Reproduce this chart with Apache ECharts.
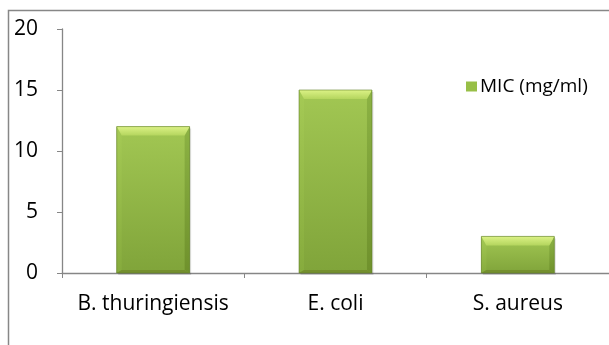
<!DOCTYPE html>
<html>
<head>
<meta charset="utf-8">
<script src="https://cdn.jsdelivr.net/npm/echarts@6/dist/echarts.min.js"></script>
<style>
  html, body { margin: 0; padding: 0; background: #fff; }
  #chart { width: 609px; height: 345px; }
</style>
</head>
<body>
<div id="chart"></div>
<script>
// Minimum inhibitory concentration per organism
const organisms = ['B. thuringiensis', 'E. coli', 'S. aureus'];
const micValues = [12, 15, 3];
const yTicks = [0, 5, 10, 15, 20];
const seriesName = 'MIC (mg/ml)';

const FONT = '"Open Sans", Lato, sans-serif';

// Bevelled bar: shaded face with a bright top edge and darker sides
function renderBevelBar(params, api) {
  const idx = api.value(0);
  const val = api.value(1);
  const base = api.coord([idx, 0]);
  const top = api.coord([idx, val]);
  const bw = api.size([1, 0])[0] * 0.4;
  const l = base[0] - bw / 2, r = l + bw;
  const t = top[1], b = base[1];
  const s = 5, ht = 9, hb = 3;
  return {
    type: 'group',
    children: [
      { type: 'rect', shape: { x: l + 1.5, y: t + 2, width: bw, height: b - t },
        style: { fill: 'rgba(0,0,0,0.12)' } },
      { type: 'rect', shape: { x: l, y: t, width: bw, height: b - t },
        style: { fill: new echarts.graphic.LinearGradient(0, 0, 0, 1, [
          { offset: 0, color: '#a2c753' }, { offset: 1, color: '#80a43a' }]) } },
      { type: 'polygon', shape: { points: [[l, t], [l + s, t + ht], [l + s, b - hb], [l, b]] },
        style: { fill: new echarts.graphic.LinearGradient(0, 0, 0, 1, [
          { offset: 0, color: '#a5ca55' }, { offset: 1, color: '#86ab3d' }]) } },
      { type: 'polygon', shape: { points: [[r, t], [r - s, t + ht], [r - s, b - hb], [r, b]] },
        style: { fill: new echarts.graphic.LinearGradient(0, 0, 0, 1, [
          { offset: 0, color: '#8cb244' }, { offset: 1, color: '#6f912c' }]) } },
      { type: 'polygon', shape: { points: [[l, b], [l + s, b - hb], [r - s, b - hb], [r, b]] },
        style: { fill: '#748f2e' } },
      { type: 'polygon', shape: { points: [[l, t], [r, t], [r - s, t + ht], [l + s, t + ht]] },
        style: { fill: new echarts.graphic.LinearGradient(0, 0, 0, 1, [
          { offset: 0, color: '#dcf286' }, { offset: 1, color: '#b4d55e' }]) } },
      { type: 'rect', shape: { x: l, y: t, width: bw, height: b - t },
        style: { fill: 'none', stroke: '#61802a', lineWidth: 0.6 } }
    ]
  };
}

const chart = echarts.init(document.getElementById('chart'), null, { renderer: 'canvas' });
chart.setOption({
  animation: false,
  backgroundColor: '#fff',
  graphic: [
    { type: 'rect', shape: { x: 8.5, y: 10.5, width: 700, height: 400 },
      style: { fill: 'none', stroke: '#878787', lineWidth: 1.5 }, z: -1 }
  ],
  grid: { left: 62, top: 29, width: 556, height: 244, containLabel: false },
  legend: {
    left: 461, top: 72,
    itemWidth: 11, itemHeight: 10, itemGap: 6,
    icon: 'rect',
    textStyle: { fontFamily: FONT, fontSize: 19, color: '#000', padding: [0, 0, 0, -2] },
    data: [seriesName]
  },
  xAxis: {
    type: 'category',
    data: organisms,
    axisLine: { lineStyle: { color: '#868686', width: 1.3 } },
    axisTick: { show: true, alignWithLabel: false, length: 5, lineStyle: { color: '#868686' } },
    axisLabel: { interval: 0, hideOverlap: false, color: '#000', fontFamily: FONT, fontSize: 21, margin: 21 },
    splitLine: { show: false }
  },
  yAxis: {
    type: 'value',
    min: yTicks[0], max: yTicks[yTicks.length - 1], interval: yTicks[1] - yTicks[0],
    axisLine: { show: true, lineStyle: { color: '#868686', width: 1.3 } },
    axisTick: { show: true, length: 5, lineStyle: { color: '#868686' } },
    axisLabel: { color: '#000', fontFamily: FONT, fontSize: 21, margin: 24 },
    splitLine: { show: false }
  },
  series: [{
    name: seriesName,
    type: 'custom',
    renderItem: renderBevelBar,
    itemStyle: { color: '#98bf47' },
    encode: { x: 0, y: 1 },
    data: micValues.map((v, i) => [i, v])
  }]
});
</script>
</body>
</html>
